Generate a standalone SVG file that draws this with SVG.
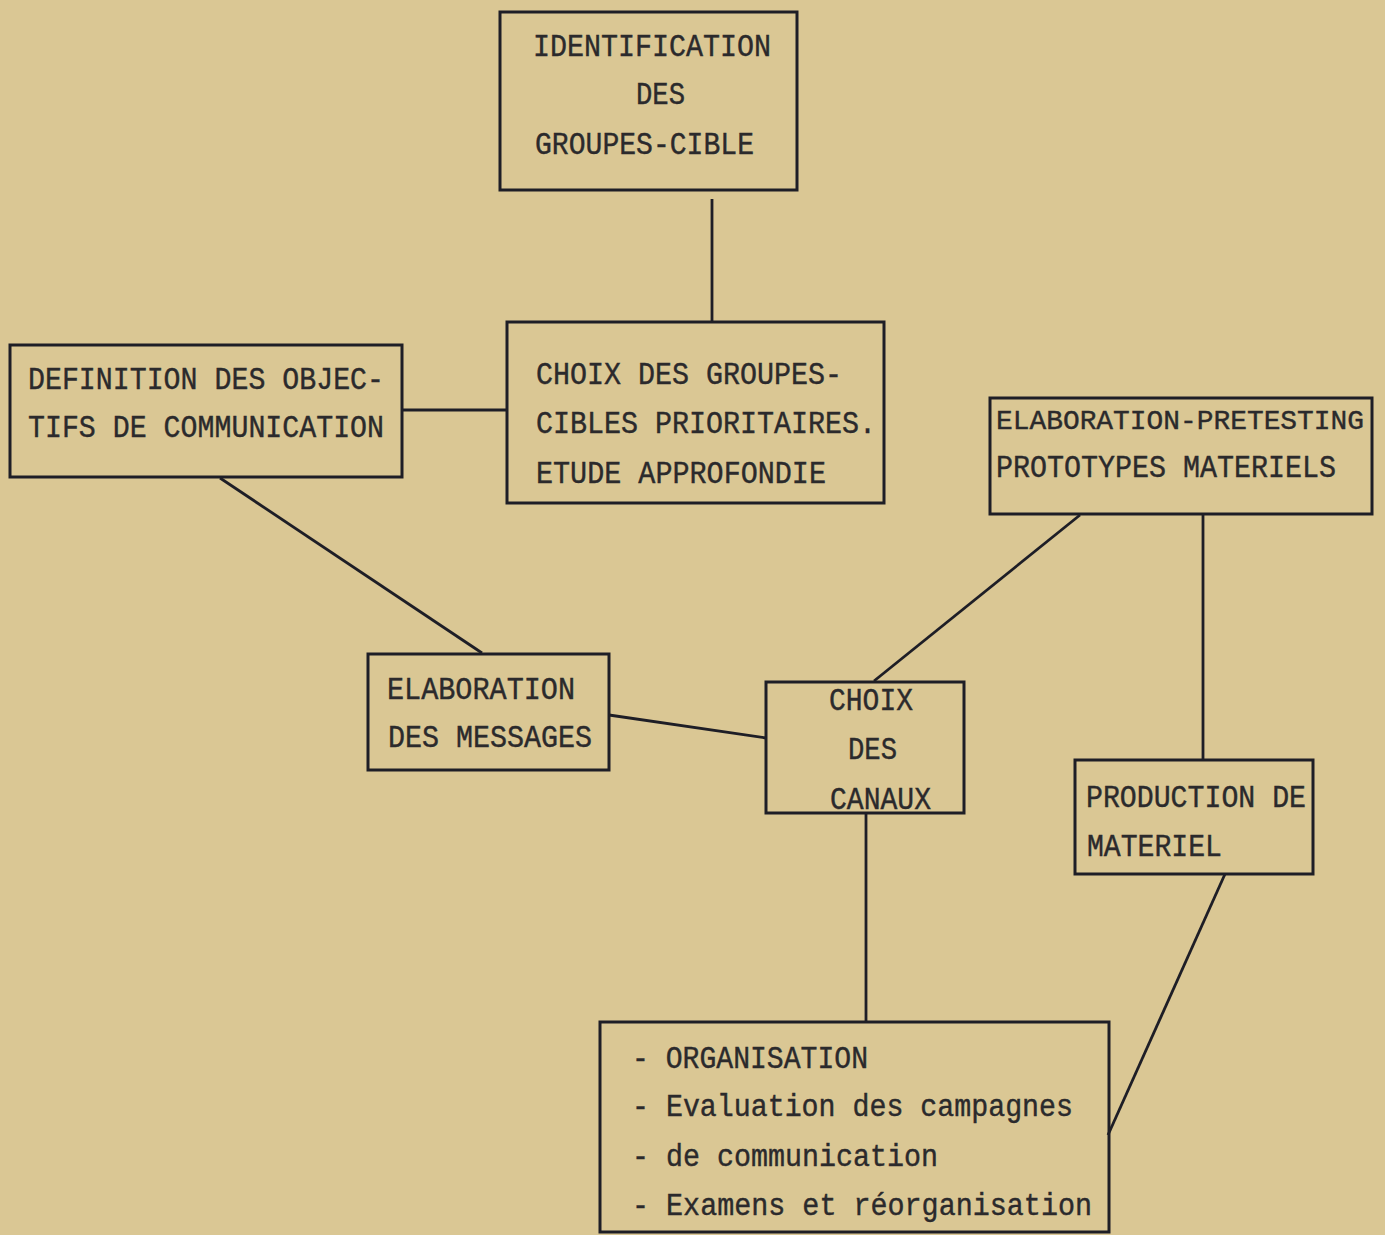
<svg xmlns="http://www.w3.org/2000/svg" width="1385" height="1235" viewBox="0 0 1385 1235">
<style>
.bg{fill:#dac794}
.box{fill:none;stroke:#1e1e26;stroke-width:3}
.edge{fill:none;stroke:#1e1e26;stroke-width:2.8}
text{font-family:"Liberation Mono","Courier New",monospace;font-size:31px;fill:#2b2a2c;stroke:#2b2a2c;stroke-width:0.4}
text.tight{font-size:27px}
</style>
<rect class="bg" x="0" y="0" width="1385" height="1235"/>
<g id="connectors">
<line class="edge" x1="712" y1="199" x2="712" y2="321"/>
<line class="edge" x1="402" y1="410" x2="507" y2="410"/>
<line class="edge" x1="220" y1="478" x2="482" y2="653"/>
<line class="edge" x1="609" y1="715" x2="766" y2="738"/>
<line class="edge" x1="1080" y1="515" x2="874" y2="681"/>
<line class="edge" x1="1203" y1="515" x2="1203" y2="759"/>
<line class="edge" x1="866" y1="814" x2="866" y2="1021"/>
<line class="edge" x1="1225" y1="874" x2="1108" y2="1135"/>
</g>
<g id="n1">
<rect class="box" x="500" y="12" width="297" height="178"/>
<text x="533" y="56" textLength="238" lengthAdjust="spacingAndGlyphs">IDENTIFICATION</text>
<text x="636" y="104" textLength="49" lengthAdjust="spacingAndGlyphs">DES</text>
<text x="535" y="154" textLength="219" lengthAdjust="spacingAndGlyphs">GROUPES-CIBLE</text>
</g>
<g id="n2">
<rect class="box" x="10" y="345" width="392" height="132"/>
<text x="28" y="389" textLength="356" lengthAdjust="spacingAndGlyphs">DEFINITION DES OBJEC-</text>
<text x="28" y="437" textLength="356" lengthAdjust="spacingAndGlyphs">TIFS DE COMMUNICATION</text>
</g>
<g id="n3">
<rect class="box" x="507" y="322" width="377" height="181"/>
<text x="536" y="384" textLength="306" lengthAdjust="spacingAndGlyphs">CHOIX DES GROUPES-</text>
<text x="536" y="433" textLength="340" lengthAdjust="spacingAndGlyphs">CIBLES PRIORITAIRES.</text>
<text x="536" y="483" textLength="290" lengthAdjust="spacingAndGlyphs">ETUDE APPROFONDIE</text>
</g>
<g id="n4">
<rect class="box" x="990" y="398" width="382" height="116"/>
<text class="tight" x="996" y="429" textLength="368" lengthAdjust="spacingAndGlyphs">ELABORATION-PRETESTING</text>
<text x="996" y="477" textLength="340" lengthAdjust="spacingAndGlyphs">PROTOTYPES MATERIELS</text>
</g>
<g id="n5">
<rect class="box" x="368" y="654" width="241" height="116"/>
<text x="387" y="699" textLength="188" lengthAdjust="spacingAndGlyphs">ELABORATION</text>
<text x="388" y="747" textLength="204" lengthAdjust="spacingAndGlyphs">DES MESSAGES</text>
</g>
<g id="n6">
<rect class="box" x="766" y="682" width="198" height="131"/>
<text x="829" y="710" textLength="84" lengthAdjust="spacingAndGlyphs">CHOIX</text>
<text x="848" y="759" textLength="49" lengthAdjust="spacingAndGlyphs">DES</text>
<text x="830" y="809" textLength="101" lengthAdjust="spacingAndGlyphs">CANAUX</text>
</g>
<g id="n7">
<rect class="box" x="1075" y="760" width="238" height="114"/>
<text x="1086" y="807" textLength="220" lengthAdjust="spacingAndGlyphs">PRODUCTION DE</text>
<text x="1087" y="856" textLength="135" lengthAdjust="spacingAndGlyphs">MATERIEL</text>
</g>
<g id="n8">
<rect class="box" x="600" y="1022" width="509" height="210"/>
<text x="632" y="1068" textLength="236" lengthAdjust="spacingAndGlyphs">- ORGANISATION</text>
<text x="632" y="1116" textLength="441" lengthAdjust="spacingAndGlyphs">- Evaluation des campagnes</text>
<text x="632" y="1166" textLength="306" lengthAdjust="spacingAndGlyphs">- de communication</text>
<text x="632" y="1215" textLength="460" lengthAdjust="spacingAndGlyphs">- Examens et réorganisation</text>
</g>
</svg>
